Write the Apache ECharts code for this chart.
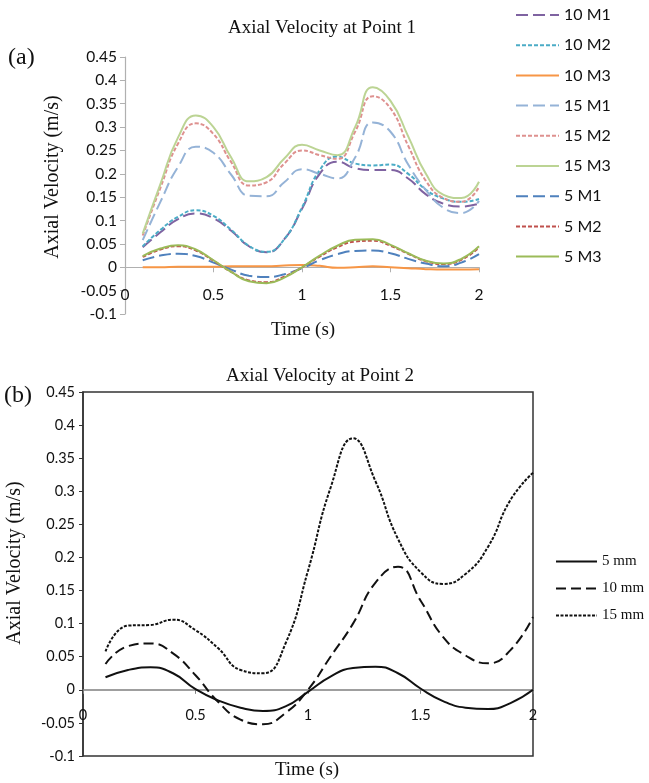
<!DOCTYPE html>
<html>
<head>
<meta charset="utf-8">
<script src="https://cdn.jsdelivr.net/npm/echarts@6/dist/echarts.min.js"></script>
<style>
  html, body { margin: 0; padding: 0; background: #fff; }
  #chart { width: 649px; height: 783px; }
</style>
</head>
<body>
<div id="chart"></div>
<script>
// Sample times (s)
const timeS = [0.1, 0.2, 0.3, 0.4, 0.5, 0.6, 0.7, 0.8, 0.9, 1.0,
               1.1, 1.2, 1.3, 1.4, 1.5, 1.6, 1.7, 1.8, 1.9, 2.0];

// Panel (a): axial velocity at point 1 (m/s)
const v10M1 = [0.043, 0.075, 0.103, 0.115, 0.105, 0.078, 0.045, 0.032, 0.060, 0.125,
               0.200, 0.226, 0.212, 0.208, 0.208, 0.190, 0.156, 0.136, 0.130, 0.136];
const v10M2 = [0.045, 0.080, 0.108, 0.122, 0.110, 0.080, 0.046, 0.033, 0.060, 0.128,
               0.208, 0.237, 0.222, 0.218, 0.220, 0.200, 0.166, 0.147, 0.140, 0.146];
const v10M3 = [0.000, 0.000, 0.001, 0.001, 0.001, 0.002, 0.002, 0.002, 0.004, 0.005,
               0.003, -0.001, 0.000, 0.002, 0.000, -0.002, -0.004, -0.005, -0.005, -0.004];
const v15M1 = [0.058, 0.140, 0.215, 0.258, 0.245, 0.198, 0.153, 0.152, 0.182, 0.210,
               0.200, 0.190, 0.235, 0.310, 0.290, 0.220, 0.165, 0.127, 0.116, 0.142];
const v15M2 = [0.068, 0.170, 0.265, 0.308, 0.285, 0.225, 0.175, 0.182, 0.222, 0.250,
               0.240, 0.232, 0.290, 0.366, 0.340, 0.260, 0.185, 0.148, 0.140, 0.172];
const v15M3 = [0.072, 0.178, 0.278, 0.325, 0.300, 0.235, 0.184, 0.193, 0.233, 0.262,
               0.250, 0.240, 0.300, 0.385, 0.356, 0.280, 0.200, 0.155, 0.148, 0.183];
const v5M1  = [0.015, 0.025, 0.029, 0.024, 0.010, -0.005, -0.018, -0.021, -0.015, -0.002,
               0.015, 0.028, 0.035, 0.036, 0.030, 0.018, 0.008, 0.002, 0.010, 0.028];
const v5M2  = [0.022, 0.038, 0.045, 0.036, 0.014, -0.010, -0.028, -0.032, -0.020, 0.000,
               0.023, 0.043, 0.055, 0.057, 0.046, 0.029, 0.013, 0.007, 0.016, 0.042];
const v5M3  = [0.024, 0.040, 0.047, 0.038, 0.015, -0.010, -0.030, -0.034, -0.022, 0.000,
               0.025, 0.046, 0.059, 0.060, 0.048, 0.030, 0.014, 0.008, 0.018, 0.045];

// Panel (b): axial velocity at point 2 (m/s)
const v5mm  = [0.019, 0.030, 0.034, 0.025, 0.001, -0.016, -0.027, -0.032, -0.025, -0.003,
               0.020, 0.033, 0.035, 0.025, 0.002, -0.017, -0.027, -0.029, -0.020, 0.000];
const v10mm = [0.039, 0.066, 0.070, 0.055, 0.022, -0.018, -0.045, -0.052, -0.035, 0.000,
               0.050, 0.100, 0.162, 0.186, 0.135, 0.080, 0.052, 0.040, 0.060, 0.110];
const v15mm = [0.058, 0.097, 0.098, 0.106, 0.090, 0.063, 0.030, 0.025, 0.070, 0.180,
               0.305, 0.380, 0.315, 0.228, 0.178, 0.160, 0.175, 0.216, 0.287, 0.328];

// Axis ticks
const timeTicks = { min: 0, max: 2, step: 0.5 };
const velTicks = { min: -0.1, max: 0.45, step: 0.05 };

const SERIF = '"Liberation Serif", "Times New Roman", serif';
const SANS = 'Lato, "Open Sans", sans-serif';

const pairs = (ys) => ys.map((v, i) => [timeS[i], v]);
const fmt = (v) => String(Number(v.toFixed(3)));

// Plot boxes (px)
const boxA = { left: 125, top: 57, width: 354, height: 257 };
const boxB = { left: 83, top: 392, width: 450, height: 364 };
// Distance from the bottom of a box up to the zero line
const zeroLift = (box) => box.height * (0 - velTicks.min) / (velTicks.max - velTicks.min);

const LONG = [12, 5];
const SHORT = [4, 2];

const panelA = [
  { name: '10 M1', data: v10M1, color: '#7F63A1', type: LONG },
  { name: '10 M2', data: v10M2, color: '#4BACC6', type: SHORT },
  { name: '10 M3', data: v10M3, color: '#F79646', type: 'solid' },
  { name: '15 M1', data: v15M1, color: '#95B3D7', type: LONG },
  { name: '15 M2', data: v15M2, color: '#DE918F', type: SHORT },
  { name: '15 M3', data: v15M3, color: '#BCD494', type: 'solid' },
  { name: '5 M1',  data: v5M1,  color: '#4F81BD', type: LONG },
  { name: '5 M2',  data: v5M2,  color: '#C0504D', type: SHORT },
  { name: '5 M3',  data: v5M3,  color: '#9BBB59', type: 'solid' }
];
const panelB = [
  { name: '5 mm',  data: v5mm,  type: 'solid' },
  { name: '10 mm', data: v10mm, type: [10, 5] },
  { name: '15 mm', data: v15mm, type: [3, 1.5] }
];

const series = [];
panelA.forEach(s => series.push({
  name: s.name, type: 'line', xAxisIndex: 0, yAxisIndex: 0,
  data: pairs(s.data), smooth: 0.5, symbol: 'none',
  itemStyle: { color: s.color },
  lineStyle: { color: s.color, width: 2, type: s.type }
}));
panelB.forEach(s => series.push({
  name: s.name, type: 'line', xAxisIndex: 1, yAxisIndex: 1,
  data: pairs(s.data), smooth: 0.5, symbol: 'none',
  itemStyle: { color: '#111' },
  lineStyle: { color: '#111', width: 2, type: s.type }
}));

const chart = echarts.init(document.getElementById('chart'), null, { renderer: 'canvas' });

chart.setOption({
  animation: false,
  backgroundColor: '#fff',
  title: [
    { text: 'Axial Velocity at Point 1', left: 317, top: 14, textAlign: 'center',
      textStyle: { fontFamily: SERIF, fontSize: 19, fontWeight: 'normal', color: '#111' } },
    { text: 'Axial Velocity at Point 2', left: 315, top: 362, textAlign: 'center',
      textStyle: { fontFamily: SERIF, fontSize: 19, fontWeight: 'normal', color: '#111' } }
  ],
  grid: [
    Object.assign({}, boxA),
    Object.assign({ show: true, borderColor: '#333', borderWidth: 1.5,
                    backgroundColor: 'transparent' }, boxB)
  ],
  xAxis: [
    { type: 'value', gridIndex: 0, min: timeTicks.min, max: timeTicks.max, interval: timeTicks.step,
      offset: -zeroLift(boxA),
      axisLine: { show: true, onZero: false, lineStyle: { color: '#b0b0b0', width: 1.2 } },
      axisTick: { show: true, length: 5, lineStyle: { color: '#b0b0b0' } },
      axisLabel: { margin: 20, fontFamily: SANS, fontSize: 15.5, color: '#111', formatter: fmt },
      splitLine: { show: false } },
    { type: 'value', gridIndex: 1, min: timeTicks.min, max: timeTicks.max, interval: timeTicks.step,
      offset: -zeroLift(boxB),
      axisLine: { show: true, onZero: false, lineStyle: { color: '#808080', width: 1.5 } },
      axisTick: { show: true, length: 4, lineStyle: { color: '#808080' } },
      axisLabel: { margin: 18, fontFamily: SANS, fontSize: 14.5, color: '#111', formatter: fmt },
      splitLine: { show: false } }
  ],
  yAxis: [
    { type: 'value', gridIndex: 0, min: velTicks.min, max: velTicks.max, interval: velTicks.step,
      axisLine: { show: true, onZero: false, lineStyle: { color: '#b0b0b0', width: 1.2 } },
      axisTick: { show: true, length: 5, lineStyle: { color: '#b0b0b0' } },
      axisLabel: { margin: 8, fontFamily: SANS, fontSize: 15.5, color: '#111', formatter: fmt },
      splitLine: { show: false } },
    { type: 'value', gridIndex: 1, min: velTicks.min, max: velTicks.max, interval: velTicks.step,
      axisLine: { show: true, onZero: false, lineStyle: { color: '#333', width: 1.5 } },
      axisTick: { show: true, length: 4, lineStyle: { color: '#333' } },
      axisLabel: { margin: 8, fontFamily: SANS, fontSize: 14.5, color: '#111', formatter: fmt },
      splitLine: { show: false } }
  ],
  legend: [
    { data: panelA.map(s => s.name), orient: 'vertical', left: 515, top: 7, padding: 0,
      itemWidth: 43, itemHeight: 14, itemGap: 14.2,
      itemStyle: { opacity: 0 },
      textStyle: { fontFamily: SANS, fontSize: 16, color: '#111' } },
    { data: panelB.map(s => s.name), orient: 'vertical', left: 555, top: 554, padding: 0,
      itemWidth: 41, itemHeight: 14, itemGap: 12,
      itemStyle: { opacity: 0 },
      textStyle: { fontFamily: SERIF, fontSize: 15, color: '#111' } }
  ],
  graphic: [
    { type: 'text', left: 8, top: 46,
      style: { text: '(a)', font: '24px ' + SERIF, fill: '#111' } },
    { type: 'text', left: 4, top: 384,
      style: { text: '(b)', font: '24px ' + SERIF, fill: '#111' } },
    { type: 'text', x: 53, y: 177, rotation: Math.PI / 2,
      style: { text: 'Axial Velocity (m/s)', font: '20px ' + SERIF, fill: '#111',
               align: 'center', verticalAlign: 'middle' } },
    { type: 'text', x: 15, y: 563, rotation: Math.PI / 2,
      style: { text: 'Axial Velocity (m/s)', font: '20px ' + SERIF, fill: '#111',
               align: 'center', verticalAlign: 'middle' } },
    { type: 'text', x: 303, y: 330,
      style: { text: 'Time (s)', font: '19px ' + SERIF, fill: '#111',
               align: 'center', verticalAlign: 'middle' } },
    { type: 'text', x: 307, y: 770,
      style: { text: 'Time (s)', font: '19px ' + SERIF, fill: '#111',
               align: 'center', verticalAlign: 'middle' } }
  ],
  series: series
});
</script>
</body>
</html>
